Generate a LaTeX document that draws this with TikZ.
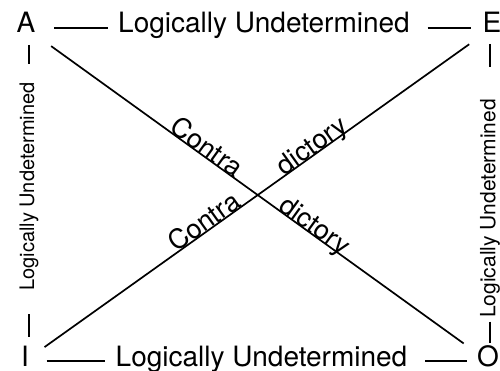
\documentclass[tikz,border=0pt]{standalone}
\usepackage{fontspec}
\setmainfont{TeX Gyre Heros}

\tikzset{every picture/.style={line width=1.7pt}}
\tikzset{
  corner/.style={font=\fontsize{28}{28}\selectfont, inner sep=0pt, text height=19pt, text depth=9pt},
  sideundet/.style={font=\fontsize{20}{20}\selectfont, inner sep=0pt, rotate=90},
  sidedash/.style={line width=2.4pt},
  contra/.style={font=\fontsize{27}{27}\selectfont, inner sep=0pt, sloped, anchor=base},
}

\begin{document}
\begin{tikzpicture}[x=1pt,y=-1pt]
\useasboundingbox (0,0) rectangle (500,371);

% Text Node
\node [corner] (A) at (26,28) {A};
% Text Node
\node [corner] (E) at (492,28) {E};
% Text Node
\node [corner] (I) at (25,361) {I};
% Text Node
\node [corner] (O) at (488,361) {O};
% Text Node
\node [corner] (ae) at (264,28) {Logically Undetermined};
% Text Node
\node [corner] (io) at (261.5,361) {Logically Undetermined};
% Text Node
\node [sideundet] (ai) at (29,186.5) {Logically Undetermined};
% Text Node
\node [sideundet, font=\fontsize{21}{21}\selectfont] (eo) at (490,208.5) {Logically Undetermined};

%Straight Lines
\draw [shorten <=18pt, shorten >=9pt] (A) -- (ae);
\draw [shorten <=17pt, shorten >=11pt] (ae) -- (E);
\draw [shorten <=17pt, shorten >=10pt] (I) -- (io);
\draw [shorten <=17pt, shorten >=9.5pt] (io) -- (O);
%Straight Lines
\draw [sidedash, shorten <=17pt, shorten >=18pt] (ai.east |- A) -- (ai.east);
\draw [sidedash, shorten <=23pt, shorten >=24pt] (ai.west) -- (ai.west |- I);
\draw [sidedash, shorten <=16pt, shorten >=31pt] (eo.east |- E) -- (eo.east);
\draw [sidedash, shorten <=3pt, shorten >=18pt] (eo.west) -- (eo.west |- O);
%Straight Lines
\draw [shorten <=31pt, shorten >=30pt] (A.center) -- (O.center)
  node [contra, pos=0.38] (c1) {Contra}
  node [contra, pos=0.615] (d1) {dictory};
\draw [shorten <=24pt, shorten >=28pt] (I.center) -- (E.center)
  node [contra, pos=0.395] (c2) {Contra}
  node [contra, pos=0.625] (d2) {dictory};

\end{tikzpicture}
\end{document}
